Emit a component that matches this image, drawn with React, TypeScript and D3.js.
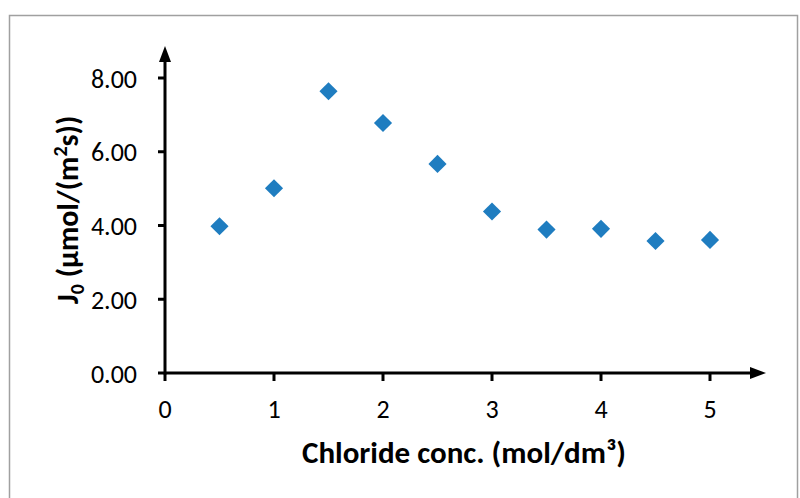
import React from "react";
import * as d3 from "d3";

const xValues = [0.5, 1, 1.5, 2, 2.5, 3, 3.5, 4, 4.5, 5];
const yValues = [3.98, 5.01, 7.64, 6.78, 5.67, 4.38, 3.89, 3.91, 3.58, 3.61];
const xTicks = [0, 1, 2, 3, 4, 5];
const yTicks = [0, 2, 4, 6, 8];
const xTitle = "Chloride conc. (mol/dm³)";

export default function App() {
  const W = 800, H = 498;
  const x = d3.scaleLinear().domain([0, 5]).range([165, 710]);
  const y = d3.scaleLinear().domain([0, 8]).range([373, 78]);
  const font = "Carlito, Calibri, Lato, sans-serif";
  const diamond = d3.symbol().type(d3.symbolDiamond2).size(210)();
  return (
    <svg width={W} height={H} style={{ position: "absolute", left: 0, top: 0 }}>
      <rect x={0} y={0} width={W} height={H} fill="#fff" />
      <rect x={9.5} y={15.5} width={788} height={500} fill="none" stroke="#a0a0a0" strokeWidth={1.5} />
      {/* axes */}
      <line x1={x(0)} y1={y(0)} x2={752} y2={y(0)} stroke="#000" strokeWidth={3} />
      <path d={`M766,${y(0)} L750,${y(0) - 6} L750,${y(0) + 6} Z`} fill="#000" />
      <line x1={x(0)} y1={y(0) + 1.5} x2={x(0)} y2={60} stroke="#000" strokeWidth={3} />
      <path d={`M${x(0)},46 L${x(0) - 6},62 L${x(0) + 6},62 Z`} fill="#000" />
      {yTicks.map((t) => (
        <g key={"y" + t}>
          <line x1={x(0) - 7} x2={x(0)} y1={y(t)} y2={y(t)} stroke="#000" strokeWidth={3} />
          <text x={137} y={y(t) + 9.5} textAnchor="end" fontFamily={font} fontSize={26} fill="#000">
            {t.toFixed(2)}
          </text>
        </g>
      ))}
      {xTicks.map((t) => (
        <g key={"x" + t}>
          <line x1={x(t)} x2={x(t)} y1={y(0)} y2={y(0) + 8} stroke="#000" strokeWidth={3} />
          <text x={x(t)} y={418} textAnchor="middle" fontFamily={font} fontSize={26} fill="#000">
            {t}
          </text>
        </g>
      ))}
      <text x={464} y={463} textAnchor="middle" fontFamily={font} fontSize={31} fontWeight="bold" fill="#000">
        {xTitle}
      </text>
      <text
        transform={`translate(78,210) rotate(-90)`}
        textAnchor="middle"
        fontFamily={font}
        fontSize={30}
        fontWeight="bold"
        fill="#000"
      >
        J<tspan fontSize={20} dy={6}>0</tspan>
        <tspan dy={-6}> (µmol/(m</tspan>
        <tspan fontSize={20} dy={-11}>2</tspan>
        <tspan dy={11}>s))</tspan>
      </text>
      {xValues.map((v, i) => (
        <path
          key={i}
          d={diamond}
          transform={`translate(${x(v)},${y(yValues[i])})`}
          fill="#1F7DC0"
        />
      ))}
    </svg>
  );
}
